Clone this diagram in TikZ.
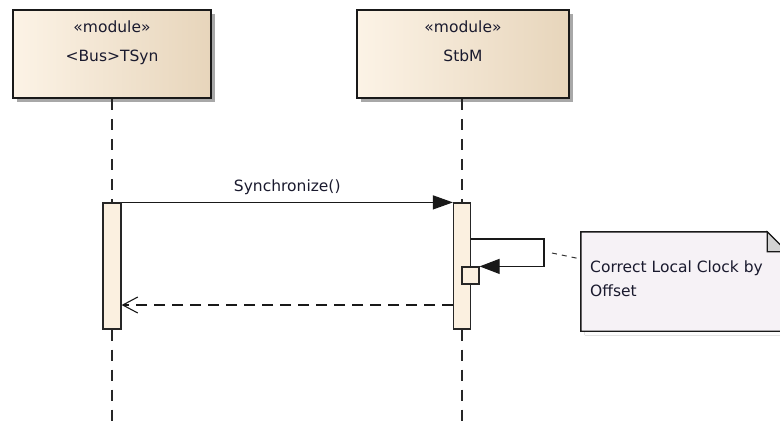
\documentclass[tikz,border=0pt]{standalone}
\usepackage{fontspec}
\setmainfont{DejaVu Sans}
\usetikzlibrary{arrows.meta,shadows,calc}
\definecolor{boxL}{HTML}{FCF3E6}
\definecolor{boxR}{HTML}{E7D5BB}
\definecolor{actfill}{HTML}{FBF0E0}
\definecolor{notefill}{HTML}{F6F2F6}
\definecolor{foldfill}{HTML}{D2D2D2}
\definecolor{ink}{HTML}{1A1A2E}
\definecolor{shade}{HTML}{A8A8A8}
\begin{document}
\begin{tikzpicture}[x=1pt,y=-1pt,
  txt/.style={font=\fontsize{15.5}{24}\selectfont, text=ink, inner sep=0pt},
  lifebox/.style={draw=black!90, line width=1.6pt, left color=boxL, right color=boxR,
    minimum height=88pt, inner sep=0pt,
    drop shadow={shadow xshift=4pt, shadow yshift=-4pt, fill=shade, opacity=1}},
  act/.style={draw=black!85, line width=1.2pt, fill=actfill, inner sep=0pt},
  life/.style={line width=1.4pt, dash pattern=on 11pt off 9pt, draw=black!85},
  msg/.style={line width=1.2pt, draw=black!90},
  solidhead/.style={-{Triangle[length=20pt,width=14pt]}},
  openhead/.style={-{Straight Barb[length=15pt,width=16pt,line width=1.1pt]}},
  notelink/.style={line width=1pt, dash pattern=on 5pt off 5pt, draw=black!80},
]
\useasboundingbox (0,0) rectangle (780,421);
\clip (0,0) rectangle (780,421);

% lifeline heads
\node[lifebox, minimum width=198pt] (tsyn) at (112,54) {};
\node[lifebox, minimum width=212pt] (stbm) at (463,54) {};
\node[txt, anchor=base] (tsynst) at (112,32) {«module»};
\node[txt, anchor=base] (tsynnm) at (112,61) {<Bus>TSyn};
\node[txt, anchor=base] (stbmst) at (463,32) {«module»};
\node[txt, anchor=base] (stbmnm) at (463,61) {StbM};

% activations
\node[act, minimum width=18pt, minimum height=126pt] (actA) at (112,266) {};
\node[act, minimum width=17pt, minimum height=126pt] (actB) at (462,266) {};

% lifelines
\coordinate (endA) at (112,421);
\coordinate (endB) at (462,421);
\draw[life] (tsyn.south) -- (actA.north);
\draw[life] (actA.south) -- (endA);
\draw[life] (stbm.south -| actB.north) -- (actB.north);
\draw[life] (actB.south) -- (endB);

% synchronize call
\draw[msg, solidhead] (actA.north east) -- node[txt, above=7pt] (synclbl) {Synchronize()} (actB.north west);

% self message
\node[act, minimum width=17pt, minimum height=17pt] (sb) at (470.5,275.5) {};
\coordinate (s1) at (470,239);
\coordinate (s2) at (544,239);
\draw[msg, -{Triangle[length=20pt,width=15pt]}] (actB.east |- s1) -- (s2) |- (sb.north east);

% return
\coordinate (r1) at (453,305);
\draw[msg, openhead, dash pattern=on 11pt off 7pt] (r1) -- (actA.east |- r1);

% note
\node[minimum width=206pt, minimum height=99pt, inner sep=0pt] (note) at (684,281.5) {};
\fill[shade] ($(note.north west)+(4,4)$) -- ($(note.north east)+(-16,4)$) -- ($(note.north east)+(4,24)$) -- ($(note.south east)+(4,4)$) -- ($(note.south west)+(4,4)$) -- cycle;
\draw[line width=1.4pt, draw=black!90, fill=notefill] (note.north west) -- ($(note.north east)+(-20,0)$) -- ($(note.north east)+(0,20)$) -- (note.south east) -- (note.south west) -- cycle;
\draw[line width=1.2pt, draw=black!90, fill=foldfill] ($(note.north east)+(-20,0)$) -- ($(note.north east)+(-20,20)$) -- ($(note.north east)+(0,20)$) -- cycle;
\node[txt, anchor=north west, align=left] (notetxt) at (590,261) {Correct Local Clock by\\Offset};
\coordinate (nc) at (552,253);
\draw[notelink] (nc) -- (note.west |- 0,259);
\end{tikzpicture}
\end{document}
